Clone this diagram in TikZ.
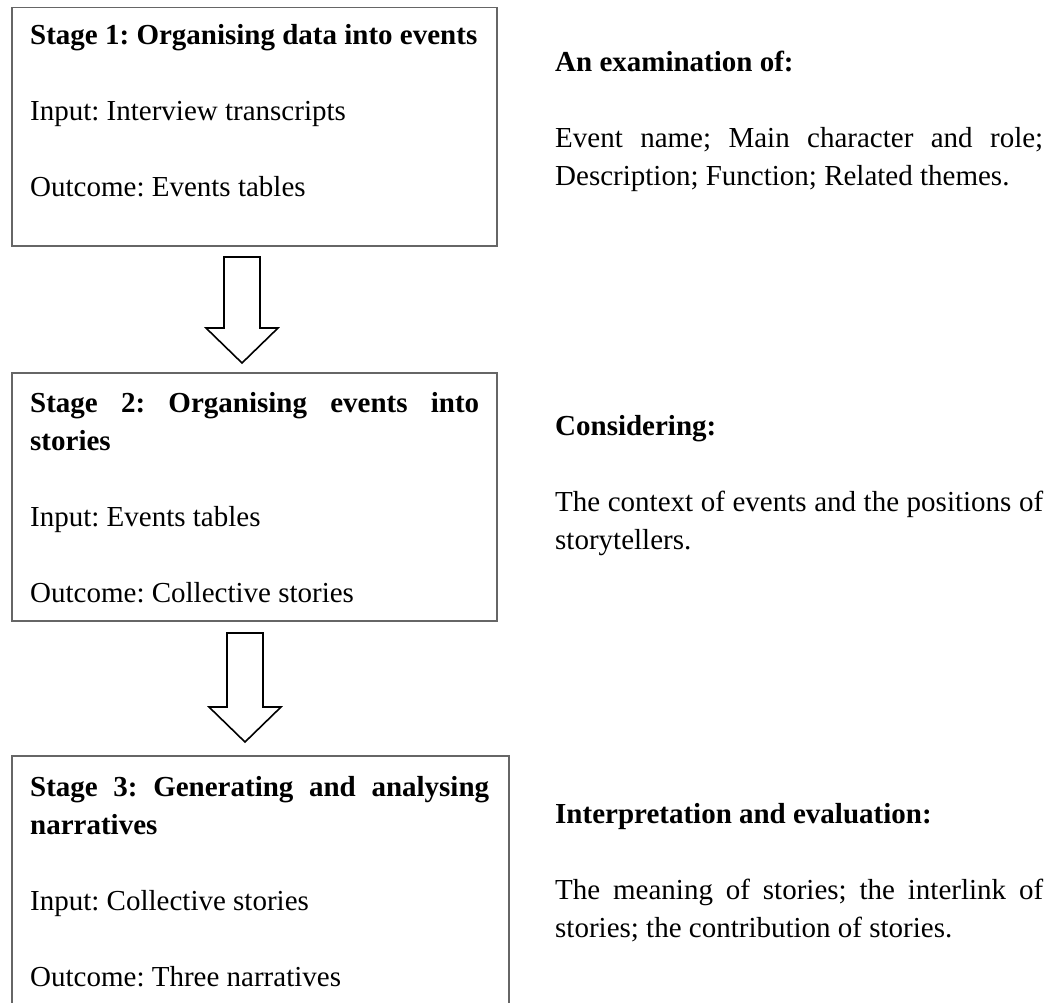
\documentclass[tikz,border=0pt]{standalone}
\usepackage{fontspec}
\setmainfont{Liberation Serif}
\usetikzlibrary{calc}
\frenchspacing
\hyphenpenalty=10000
\tolerance=9999

\newcommand{\stagearrow}[2]{%
  \draw[hollowarrow] ($(#1)+(-18,0)$) -- ($(#1)+(18,0)$) -- ($(#2)+(18,-35)$)
    -- ($(#2)+(36,-35)$) -- (#2) -- ($(#2)+(-36,-35)$) -- ($(#2)+(-18,-35)$) -- cycle;}

\begin{document}
\begin{tikzpicture}[x=1pt, y=-1pt,
    stagebox/.style={draw=black!60, line width=1.5pt, inner sep=0pt, anchor=north west},
    bodytext/.style={inner sep=0pt, anchor=base west, align=justify,
      font=\fontsize{29}{38}\selectfont\frenchspacing},
    hollowarrow/.style={draw=black, line width=1.6pt, line join=miter, fill=white}]
    \useasboundingbox (0,0) rectangle (1057,1003);

    % stage boxes
    \node[stagebox, minimum width=485pt, minimum height=238pt] (s1) at (11,7) {};
    \node[stagebox, minimum width=485pt, minimum height=248pt] (s2) at (11,372) {};
    \node[stagebox, minimum width=497pt, minimum height=270pt] (s3) at (11,755) {};

    \node[bodytext, text width=449pt] (s1t) at (30,45)
      {\textbf{Stage 1: Organising data into events}\par\vspace{38pt}
       Input: Interview transcripts\par\vspace{38pt}
       Outcome: Events tables};
    \node[bodytext, text width=449pt] (s2t) at (30,412)
      {\textbf{Stage 2: Organising events into stories}\par\vspace{38pt}
       Input: Events tables\par\vspace{38pt}
       Outcome: Collective stories};
    \node[bodytext, text width=459pt] (s3t) at (30,796)
      {\textbf{Stage 3: Generating and analysing narratives}\par\vspace{38pt}
       Input: Collective stories\par\vspace{38pt}
       Outcome: Three narratives};

    % notes on the right
    \node[bodytext, text width=488pt] (n1) at (555,72)
      {\textbf{An examination of:}\par\vspace{38pt}
       Event name; Main character and role; Description; Function; Related themes.};
    \node[bodytext, text width=488pt] (n2) at (555,435)
      {\textbf{Considering:}\par\vspace{38pt}
       The context of events and the positions of storytellers.};
    \node[bodytext, text width=488pt] (n3) at (555,823)
      {\textbf{Interpretation and evaluation:}\par\vspace{38pt}
       The meaning of stories; the interlink of stories; the contribution of stories.};

    % block arrows
    \coordinate (a1) at (242,257);
    \coordinate (a1tip) at (242,363);
    \coordinate (a2) at (245,633);
    \coordinate (a2tip) at (245,742);
    \stagearrow{a1}{a1tip}
    \stagearrow{a2}{a2tip}
\end{tikzpicture}
\end{document}
